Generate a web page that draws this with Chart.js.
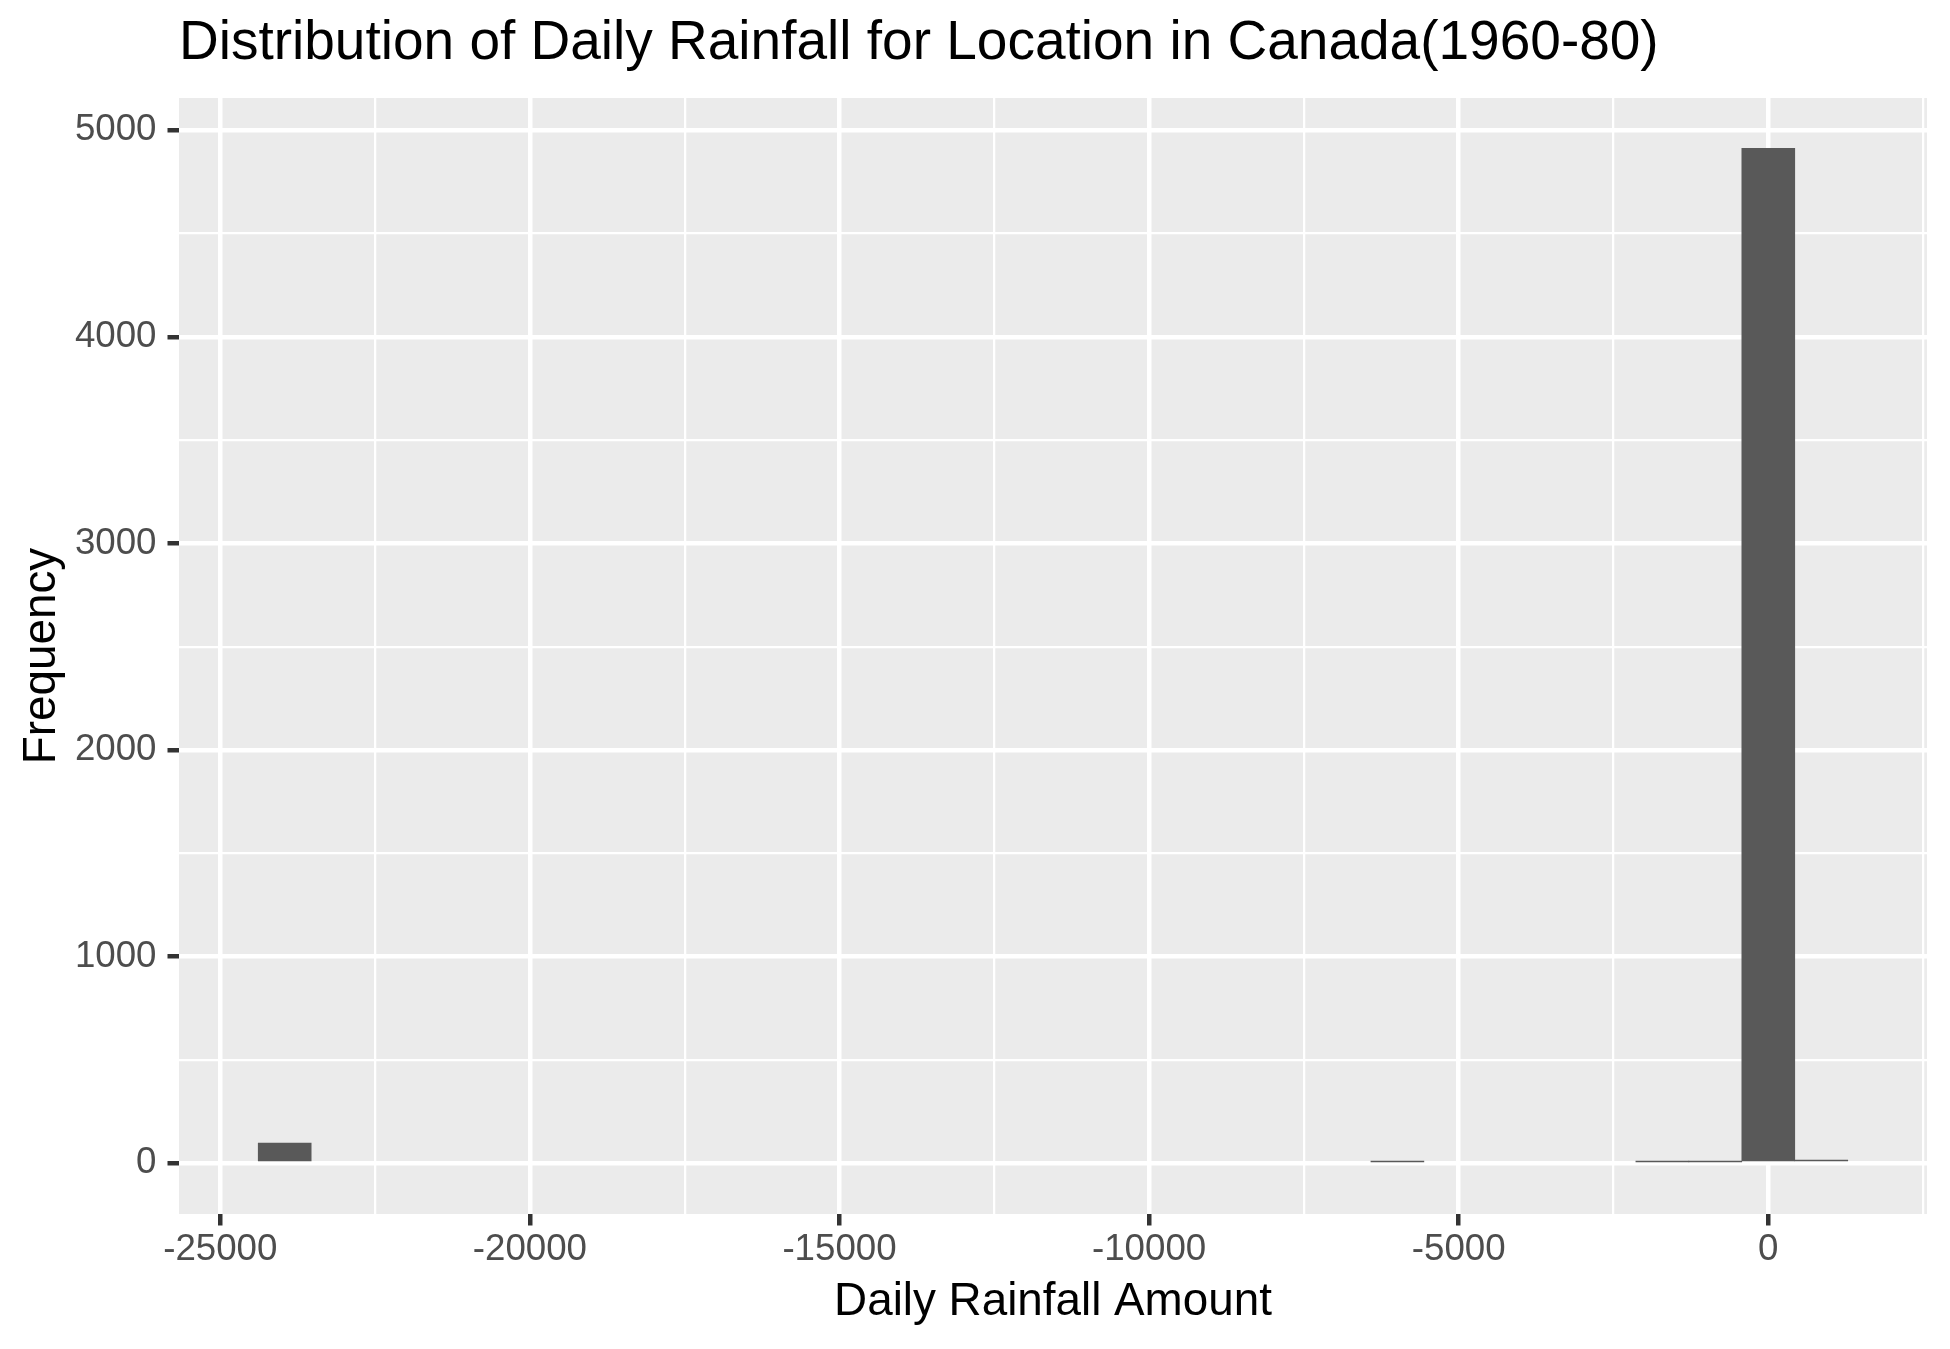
<!DOCTYPE html>
<html>
<head>
<meta charset="utf-8">
<script src="https://cdn.jsdelivr.net/npm/chart.js@4.4.1/dist/chart.umd.min.js"></script>
<style>
  html, body { margin: 0; padding: 0; background: #ffffff; }
  #wrap { width: 1950px; height: 1349px; }
</style>
</head>
<body>
<div id="wrap"><canvas id="c" width="1950" height="1349"></canvas></div>
<script>
// ---- data ----
const titleText = 'Distribution of Daily Rainfall for Location in Canada(1960-80)';
const xTitle = 'Daily Rainfall Amount';
const yTitle = 'Frequency';

// histogram bin centres (bin width ~856)
const binCenters = [-23960, -23104, -22248, -21393, -20537, -19681, -18825, -17970, -17114, -16258,
                    -15403, -14547, -13691, -12836, -11980, -11124, -10268, -9413, -8557, -7701,
                    -6846, -5990, -5134, -4279, -3423, -2567, -1711, -856, 0, 856];
const frequencies = [98, 0, 0, 0, 0, 0, 0, 0, 0, 0,
                     0, 0, 0, 0, 0, 0, 0, 0, 0, 0,
                     0, 6, 0, 0, 0, 0, 7, 7, 4912, 16];

const xMajorTicks = [-25000, -20000, -15000, -10000, -5000, 0];
const xMinorTicks = [-22500, -17500, -12500, -7500, -2500, 2500];
const yMajorTicks = [0, 1000, 2000, 3000, 4000, 5000];
const yMinorTicks = [500, 1500, 2500, 3500, 4500];
const xLimits = [-25667, 2563];
const yLimits = [-245.5, 5155.5];

// ---- chart ----
const FONT = "'Liberation Sans', Arial, Helvetica, sans-serif";
const isMajorX = v => xMajorTicks.includes(v);
const isMajorY = v => yMajorTicks.includes(v);
const tickList = (a, b) => a.concat(b).sort((p, q) => p - q).map(v => ({value: v}));

const panelBg = {
  id: 'panelBg',
  beforeDraw(chart) {
    const {ctx, chartArea: a} = chart;
    ctx.save();
    ctx.fillStyle = '#EBEBEB';
    ctx.fillRect(a.left, a.top, a.right - a.left, a.bottom - a.top);
    ctx.restore();
  }
};

new Chart(document.getElementById('c'), {
  type: 'bar',
  data: {
    datasets: [{
      data: binCenters.map((x, i) => ({x: x, y: frequencies[i]})),
      backgroundColor: c => (c.raw && c.raw.y > 0) ? '#595959' : 'rgba(0,0,0,0)',
      borderWidth: 0,
      barPercentage: 1.0,
      categoryPercentage: 1.0
    }]
  },
  options: {
    responsive: false,
    devicePixelRatio: 1,
    animation: false,
    layout: { padding: { left: 0, right: 23, top: 0, bottom: 0 } },
    plugins: {
      legend: { display: false },
      tooltip: { enabled: false },
      title: {
        display: true,
        text: titleText,
        align: 'start',
        fullSize: false,
        color: '#000000',
        font: { family: FONT, size: 55, weight: 'normal', lineHeight: 1.2 },
        padding: { top: 10.5, bottom: 21.5 }
      }
    },
    scales: {
      x: {
        type: 'linear',
        min: xLimits[0],
        max: xLimits[1],
        offset: false,
        border: { display: false },
        grid: {
          offset: false,
          color: '#FFFFFF',
          lineWidth: c => (c.tick && isMajorX(c.tick.value)) ? 4.5 : 2.25,
          drawTicks: true,
          tickLength: 11.5,
          tickColor: c => (c.tick && isMajorX(c.tick.value)) ? '#333333' : 'rgba(0,0,0,0)',
          tickWidth: 4.5
        },
        afterBuildTicks: s => { s.ticks = tickList(xMajorTicks, xMinorTicks); },
        ticks: {
          autoSkip: false,
          maxRotation: 0,
          minRotation: 0,
          padding: 2,
          color: '#4D4D4D',
          font: { family: FONT, size: 36.7, lineHeight: 1.2 },
          callback: v => isMajorX(v) ? String(v) : ''
        },
        title: {
          display: true,
          text: xTitle,
          color: '#000000',
          font: { family: FONT, size: 45.8, lineHeight: 1.2 },
          padding: { top: 0, bottom: 19 }
        },
        afterFit: s => { s.height = 135; }
      },
      y: {
        type: 'linear',
        min: yLimits[0],
        max: yLimits[1],
        border: { display: false },
        grid: {
          color: '#FFFFFF',
          lineWidth: c => (c.tick && isMajorY(c.tick.value)) ? 4.5 : 2.25,
          drawTicks: true,
          tickLength: 11.5,
          tickColor: c => (c.tick && isMajorY(c.tick.value)) ? '#333333' : 'rgba(0,0,0,0)',
          tickWidth: 4.5
        },
        afterBuildTicks: s => { s.ticks = tickList(yMajorTicks, yMinorTicks); },
        ticks: {
          autoSkip: false,
          padding: 11,
          color: '#4D4D4D',
          font: { family: FONT, size: 36.7, lineHeight: 1.2 },
          callback: v => isMajorY(v) ? String(v) : ''
        },
        title: {
          display: true,
          text: yTitle,
          color: '#000000',
          font: { family: FONT, size: 45.8, lineHeight: 1.2 },
          padding: { top: 15, bottom: 0 }
        },
        afterFit: s => { s.width = 179; }
      }
    }
  },
  plugins: [panelBg]
});
</script>
</body>
</html>
